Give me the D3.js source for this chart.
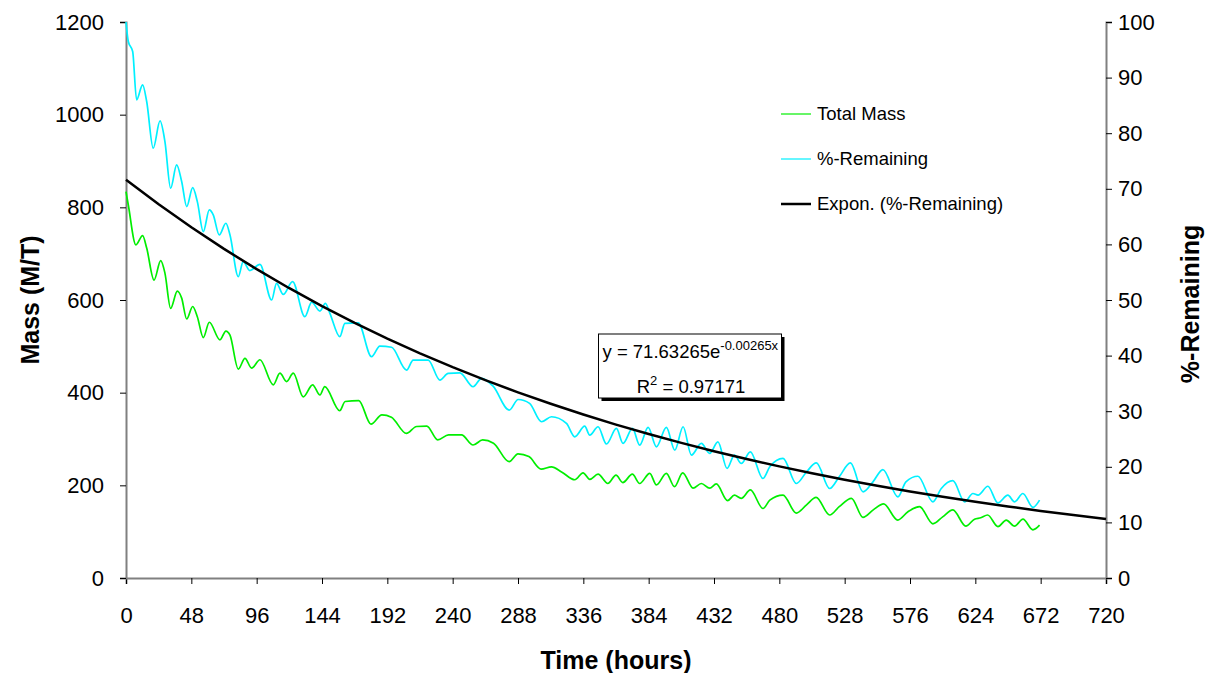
<!DOCTYPE html>
<html><head><meta charset="utf-8">
<script src="https://cdn.jsdelivr.net/npm/d3@7"></script>
<style>
html,body{margin:0;padding:0;background:#fff;}
svg{display:block;font-family:"Liberation Sans",Arial,sans-serif;}
</style></head>
<body>
<svg id="chart" width="1215" height="673"></svg>
<script>
// ---- data ----
const massHours = [0,1.7,7.3,12.2,15.2,20.6,25.5,28.6,32.8,37.7,40.9,44.6,49,52.4,56.8,61.2,69,73.4,76.4,82.5,87.4,92.3,98.4,108.2,113.1,118,122.9,130.2,137.1,142.5,146,157,161,171,180,188,195,206,213.5,221,229,237,246.5,255,262,270,281.5,288,296,305,312.6,320,329.7,335.8,340.7,346.8,354,360,365,372,377.4,384.8,389.7,397,403,409,416.6,422.7,428.8,433.7,442,447,452,458.7,468,473,482.7,492.5,500,507,517,524,533,541.4,549,556.6,567,574.5,583,592.8,600,607.5,617,623.4,628,633,640.6,646.7,652.8,659,666.3,671.2];
const massValues = [834,805,719,739,712,643,685,658,582,619,604,559,586,564,519,552,514,533,524,451,474,453,471,417,442,424,442,391,417,395,413,361,381,383,332,352,347,312,327,328,298,309,309,287,298,291,251,268,262,235,240,229,212,227,213,224,204,222,206,224,204,226,201,226,197,227,194,204,194,203,167,179,172,190,150,168,179,140,158,174,136,154,172,131,147,160,125,143,154,117,132,147,112,127,130,136,111,125,112,127,104,114];

const pctHours = [0,1.7,4.9,7.8,12.2,15.2,20,25,28.6,32.8,37.2,40.9,44.6,49,52.4,56.8,61.2,64.1,68.5,73.4,76.4,82.5,86.1,91,98.4,107,110.6,115.5,122.4,131.4,136.4,142.5,146.5,149.8,157.1,160.8,170.6,180.4,186.5,195.1,206.1,211,222,230.6,236.7,245.3,255,261.2,269.7,281.5,288.1,296.5,305.3,312.6,323.6,329.7,337,340.7,346.8,353,360.3,365.2,372.1,377.4,383.6,389.7,397,403.2,409.3,415.4,422.7,428.8,434.9,441.6,447,452.1,458.7,468,473,482.7,492.5,500,507.2,517,524,532.2,541.5,548.8,556.1,567.1,573,581.8,592.8,599,607.5,616.1,622.2,626,633.2,640.6,647.9,652.8,658.9,666.3,671.2];
const pctValues = [100,96.5,94.7,86,88.7,85.7,77.3,82.2,78.5,70.1,74.3,71.3,66.8,70.2,67.7,62.3,66.2,65.3,61.7,63.8,61.7,54.2,56.9,55.3,56.4,50,53,51,53.3,47,49.6,48,49.4,47.6,43.4,45.8,45.9,39.8,41.7,41.5,37.4,39.2,39.2,35.6,36.8,36.9,34.4,35.9,34.5,30.2,32.1,31.4,28.1,29,27.8,25.4,27.3,25.7,27.2,24.1,26.9,24.2,26.9,23.9,27.1,23.6,27.1,23,27.2,22.1,24.2,22.4,24.5,19.7,22.1,20.6,22.7,17.9,20,21.5,17,19.1,20.7,16.1,18.2,20.7,15.5,17.3,19.5,14.6,17.3,18.3,13.7,16.1,17.5,13.7,15.2,14.9,16.5,13.5,14.9,13.7,15.2,12.7,14];

// exponential trendline shown in the chart: y = 71.63265 e^(-0.00265x)
const trendA = 71.63265;
const trendB = -0.00265;
const trendHours = [0,24,48,72,96,120,144,168,192,216,240,264,288,312,336,360,384,408,432,456,480,504,528,552,576,600,624,648,672,696,720];

const xTicks = [0,48,96,144,192,240,288,336,384,432,480,528,576,624,672,720];
const leftTicks = [0,200,400,600,800,1000,1200];
const rightTicks = [0,10,20,30,40,50,60,70,80,90,100];

const legendItems = [
  {label:"Total Mass", color:"#00ee00", width:1.2},
  {label:"%-Remaining", color:"#00f0ff", width:1.2},
  {label:"Expon. (%-Remaining)", color:"#000000", width:2.5}
];

// ---- layout ----
const L = 126, R = 1106, T = 22, B = 578;
const svg = d3.select("#chart");
const x = d3.scaleLinear().domain([0,720]).range([L,R]);
const yL = d3.scaleLinear().domain([0,1200]).range([B,T]);
const yR = d3.scaleLinear().domain([0,100]).range([B,T]);

const tickFont = 22;
// X axis
const gx = svg.append("g").attr("transform",`translate(0,${B})`)
  .call(d3.axisBottom(x).tickValues(xTicks).tickSizeOuter(0).tickSize(6).tickPadding(23).tickFormat(d3.format("d")));
// Left axis
const gl = svg.append("g").attr("transform",`translate(${L},0)`)
  .call(d3.axisLeft(yL).tickValues(leftTicks).tickSizeOuter(0).tickSize(6).tickPadding(16).tickFormat(d3.format("d")));
// Right axis
const gr = svg.append("g").attr("transform",`translate(${R},0)`)
  .call(d3.axisRight(yR).tickValues(rightTicks).tickSizeOuter(0).tickSize(6).tickPadding(6).tickFormat(d3.format("d")));

[gx,gl,gr].forEach(g=>{
  g.select(".domain").attr("stroke","#808080").attr("stroke-width",2);
  g.selectAll(".tick line").attr("stroke","#000").attr("stroke-width",1);
  g.selectAll(".tick text").attr("font-size",tickFont).attr("fill","#000")
    .attr("font-family","'Liberation Sans',Arial,sans-serif");
});
gx.selectAll(".tick text").attr("dy","0.71em");

// axis titles
svg.append("text").attr("x",(L+R)/2 - 0).attr("y",669).attr("text-anchor","middle")
  .attr("font-size",25).attr("font-weight","bold").text("Time (hours)");
svg.append("text").attr("transform",`translate(39,${(T+B)/2}) rotate(-90)`).attr("text-anchor","middle")
  .attr("font-size",25).attr("font-weight","bold").text("Mass (M/T)");
svg.append("text").attr("transform",`translate(1199,${(T+B)/2 + 4}) rotate(-90)`).attr("text-anchor","middle")
  .attr("font-size",25).attr("font-weight","bold").text("%-Remaining");

// series
const massData = massHours.map((h,i)=>[h,massValues[i]]);
const pctData = pctHours.map((h,i)=>[h,pctValues[i]]);
const trendData = trendHours.map(h=>[h, trendA*Math.exp(trendB*h)]);

svg.append("path").datum(massData)
  .attr("d", d3.line().x(d=>x(d[0])).y(d=>yL(d[1])).curve(d3.curveMonotoneX))
  .attr("fill","none").attr("stroke","#00ee00").attr("stroke-width",1.7);
svg.append("path").datum(pctData)
  .attr("d", d3.line().x(d=>x(d[0])).y(d=>yR(d[1])).curve(d3.curveMonotoneX))
  .attr("fill","none").attr("stroke","#00f0ff").attr("stroke-width",1.7);
svg.append("path").datum(trendData)
  .attr("d", d3.line().x(d=>x(d[0])).y(d=>yR(d[1])))
  .attr("fill","none").attr("stroke","#000").attr("stroke-width",2.5);

// legend
const lg = svg.append("g");
legendItems.forEach((it,i)=>{
  const yy = 114 + i*45;
  lg.append("line").attr("x1",781).attr("x2",811).attr("y1",yy).attr("y2",yy)
    .attr("stroke",it.color).attr("stroke-width",it.width);
  lg.append("text").attr("x",817).attr("y",yy).attr("dy","0.35em")
    .attr("font-size",18.5).text(it.label);
});

// equation box
const bx = 598.5, by = 334, bw = 183, bh = 64;
svg.append("rect").attr("x",bx+3).attr("y",by+3).attr("width",bw).attr("height",bh).attr("fill","#000");
svg.append("rect").attr("x",bx).attr("y",by).attr("width",bw).attr("height",bh).attr("fill","#fff")
  .attr("stroke","#000").attr("stroke-width",1);
const t1 = svg.append("text").attr("x",bx+4).attr("y",by+24).attr("font-size",18.5);
t1.append("tspan").text("y = 71.63265e");
t1.append("tspan").attr("dy",-8).attr("font-size",13).text("-0.00265x");
const t2 = svg.append("text").attr("x",bx+bw/2+1).attr("y",by+59).attr("font-size",18.5).attr("text-anchor","middle");
t2.append("tspan").text("R");
t2.append("tspan").attr("dy",-8).attr("font-size",13).text("2");
t2.append("tspan").attr("dy",8).text(" = 0.97171");
</script>
</body></html>
